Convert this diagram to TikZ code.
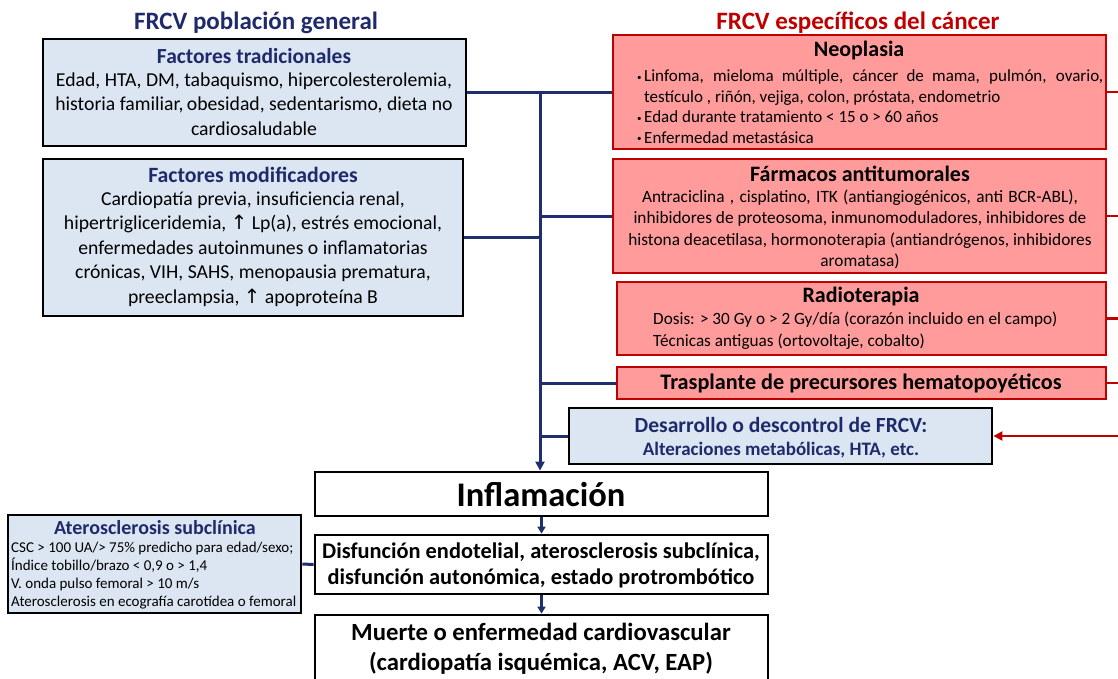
\documentclass[tikz,border=0pt]{standalone}
\usepackage{fontspec}
\setmainfont{Carlito}
\newfontfamily\symfont{DejaVu Sans}
\usetikzlibrary{arrows.meta}
\definecolor{navy}{HTML}{1F2F6E}
\definecolor{redline}{HTML}{C00000}
\definecolor{pinkfill}{HTML}{FF9B9B}
\definecolor{bluefill}{HTML}{DCE6F2}
\definecolor{txtnavy}{HTML}{1F2A6B}
\newcommand{\fs}[2]{\fontsize{#1}{#2}\selectfont}
\newcommand{\bul}{\makebox[7pt][l]{\raisebox{1.5pt}{\fs{9}{9}\textbullet}}}
\newcommand{\up}{{\symfont\char"2191}}
\begin{document}
\begin{tikzpicture}[x=1pt,y=-1pt,
  bluebox/.style={draw=black, line width=2.8pt, fill=bluefill, inner sep=0},
  redbox/.style={draw=redline, line width=2.2pt, fill=pinkfill, inner sep=0},
  whitebox/.style={draw=black, line width=2.8pt, fill=white, inner sep=0},
  txt/.style={inner sep=0, align=center},
  navyline/.style={draw=navy, line width=3pt},
  redconn/.style={draw=redline, line width=2.5pt},
  arr/.style={-{Triangle[width=9pt,length=9pt]}},
  sarr/.style={-{Triangle[width=8pt,length=7pt]}, line width=2.4pt}
]
\useasboundingbox (0,0) rectangle (1118,678);
\clip (0,0) rectangle (1118,678);

% titles
\node[txt, text=txtnavy, font=\bfseries\fs{25}{29}] (t1) at (256,23) {FRCV población general};
\node[txt, text=redline, font=\bfseries\fs{25}{29}] (t2) at (858,23) {FRCV específicos del cáncer};

% boxes
\node[bluebox, minimum width=423pt, minimum height=107pt] (trad) at (254.5,92.5) {};
\node[bluebox, minimum width=420pt, minimum height=157pt] (mod) at (253,237.5) {};
\node[redbox, minimum width=493pt, minimum height=114pt] (neo) at (859.5,92) {};
\node[redbox, minimum width=493pt, minimum height=114pt] (farm) at (859.5,216) {};
\node[redbox, minimum width=489pt, minimum height=73pt] (radio) at (861.5,318.5) {};
\node[redbox, minimum width=489pt, minimum height=32pt] (trasp) at (861.5,383) {};
\node[bluebox, minimum width=423pt, minimum height=56pt] (desarr) at (780.5,436) {};
\node[whitebox, minimum width=453pt, minimum height=44pt] (infl) at (541.5,494) {};
\node[whitebox, minimum width=453pt, minimum height=59pt] (disf) at (541.5,564.5) {};
\node[whitebox, minimum width=453pt, minimum height=90pt] (muerte) at (541.5,660) {};
\node[bluebox, minimum width=293pt, minimum height=98pt] (ateros) at (154.5,564) {};

% texts: factores tradicionales
\node[txt, text=txtnavy, font=\bfseries\fs{21.5}{25}] (tradh) at (254,56) {Factores tradicionales};
\node[txt, font=\fs{19.7}{24.5}] (tradb) at (254,104) {Edad, HTA, DM, tabaquismo, hipercolesterolemia,\\historia familiar,\,obesidad, sedentarismo, dieta no\\cardiosaludable};
% factores modificadores
\node[txt, text=txtnavy, font=\bfseries\fs{21.8}{25}] (modh) at (253,175) {Factores modificadores};
\node[txt, font=\fs{19.7}{24.5}] (modb) at (253,249) {Cardiopatía previa, insuficiencia renal,\\hipertrigliceridemia, \up{} Lp(a), estrés emocional,\\enfermedades autoinmunes o inflamatorias\\crónicas, VIH, SAHS, menopausia prematura,\\preeclampsia, \up{} apoproteína B};
% neoplasia
\node[txt, font=\bfseries\fs{22}{25}] (neoh) at (859,51) {Neoplasia};
\node[txt, align=left, anchor=west, font=\fs{17}{20.5}] (neob) at (637,106.5) {\bul\makebox[459pt][s]{Linfoma, mieloma múltiple, cáncer de mama, pulmón, ovario,}\\\hspace*{7pt}testículo , riñón, vejiga, colon, próstata, endometrio\\\bul Edad durante tratamiento < 15 o > 60 años\\\bul Enfermedad metastásica};
% farmacos
\node[txt, font=\bfseries\fs{22}{25}] (farmh) at (860,174) {Fármacos antitumorales};
\node[txt, font=\fs{17.3}{21.5}] (farmb) at (860,229.5) {\makebox[436pt][s]{Antraciclina\ , cisplatino, ITK (antiangiogénicos, anti BCR-ABL),}\\inhibidores de proteosoma, inmunomoduladores, inhibidores de\\histona deacetilasa, hormonoterapia (antiandrógenos, inhibidores\\aromatasa)};
% radioterapia
\node[txt, font=\bfseries\fs{22}{25}] (radioh) at (861,297) {Radioterapia};
\node[txt, align=left, anchor=west, font=\fs{17.2}{22}] (radiob) at (653,330.5) {Dosis: > 30 Gy o > 2 Gy/día (corazón incluido en el campo)\\Técnicas antiguas (ortovoltaje, cobalto)};
% trasplante
\node[txt, font=\bfseries\fs{22.2}{25}] (traspt) at (861,383.5) {Trasplante de precursores hematopoyéticos};
% desarrollo
\node[txt, text=txtnavy, font=\bfseries\fs{21.6}{25}] (desh) at (781,424.5) {Desarrollo o descontrol de FRCV:};
\node[txt, text=txtnavy, font=\bfseries\fs{19}{22}] (desb) at (781,450) {Alteraciones metabólicas, HTA, etc.};
% inflamacion etc
\node[txt, font=\bfseries\fs{34.5}{40}] (inflt) at (541,494.5) {Inflamación};
\node[txt, font=\bfseries\fs{22.4}{26}] (disft) at (541,565.5) {Disfunción endotelial, aterosclerosis subclínica,\\disfunción autonómica, estado protrombótico};
\node[txt, font=\bfseries\fs{24.7}{30}] (muertet) at (541,648.5) {Muerte o enfermedad cardiovascular\\(cardiopatía isquémica, ACV, EAP)};
% aterosclerosis
\node[txt, text=txtnavy, font=\bfseries\fs{20}{23}] (ath) at (155,528) {Aterosclerosis subclínica};
\node[txt, align=left, anchor=west, font=\fs{15}{18}] (atb) at (11,575.5) {CSC > 100 UA/> 75\% predicho para edad/sexo;\\Índice tobillo/brazo < 0,9 o > 1,4\\V. onda pulso femoral > 10 m/s\\Aterosclerosis en ecografía carotídea o femoral};

% connectors
\coordinate (jt) at (540,92.5);
\coordinate (redge) at (1118,0);
\draw[navyline] (trad.east) -- (trad.east -| neo.west);
\draw[navyline, arr] (jt) -- (jt |- infl.north);
\draw[navyline] (mod.east) -- (mod.east -| jt);
\draw[navyline] (farm.west -| jt) -- (farm.west);
\draw[navyline] (trasp.west -| jt) -- (trasp.west);
\draw[navyline] (desarr.west -| jt) -- (desarr.west);
\draw[navyline, sarr] (infl.south) -- (disf.north);
\draw[navyline, sarr] (disf.south) -- (muerte.north);
\draw[navyline] (ateros.east) -- (disf.west);

\draw[redconn] (neo.east) -- (neo.east -| redge);
\draw[redconn] (farm.east) -- (farm.east -| redge);
\draw[redconn] (radio.east) -- (radio.east -| redge);
\draw[redconn] (trasp.east) -- (trasp.east -| redge);
\draw[redconn, arr] (desarr.east -| redge) -- (desarr.east);
\end{tikzpicture}
\end{document}
